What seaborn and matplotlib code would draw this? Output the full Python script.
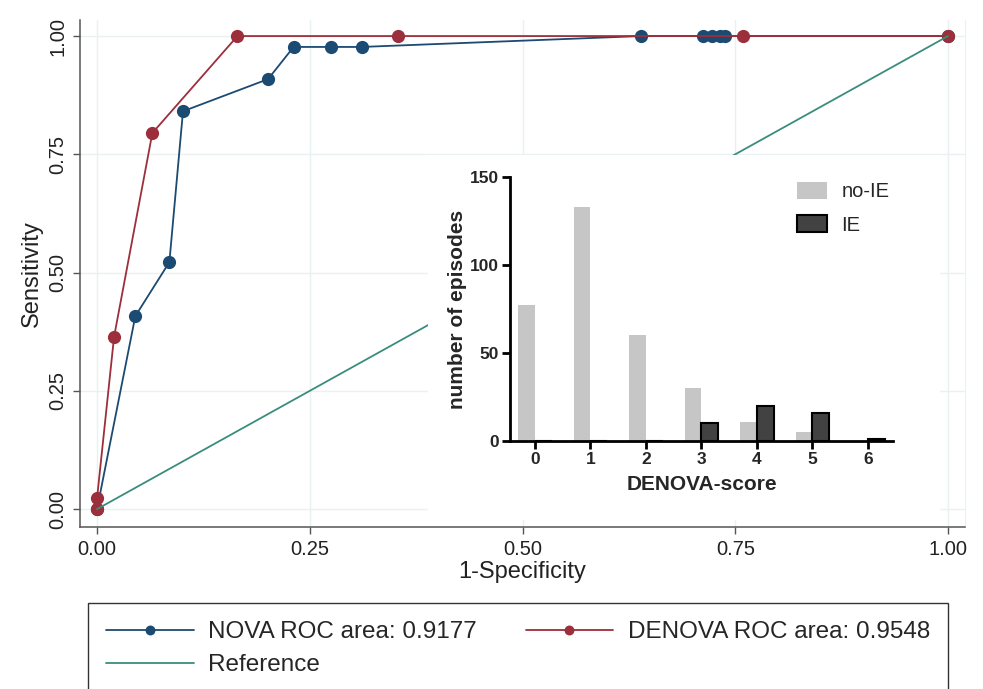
import numpy as np
import pandas as pd
import seaborn as sns
import matplotlib.pyplot as plt
from matplotlib.patches import Rectangle

# ROC points
nova_fpr = [0.0, 0.045, 0.085, 0.101, 0.201, 0.231, 0.275, 0.311, 0.639, 0.712, 0.723, 0.732, 0.738, 1.0]
nova_tpr = [0.0, 0.408, 0.522, 0.841, 0.909, 0.977, 0.977, 0.977, 1.0, 1.0, 1.0, 1.0, 1.0, 1.0]
denova_fpr = [0.0, 0.0, 0.020, 0.065, 0.165, 0.354, 0.759, 1.0]
denova_tpr = [0.0, 0.023, 0.364, 0.795, 1.0, 1.0, 1.0, 1.0]
ref_x = [0.0, 1.0]
ref_y = [0.0, 1.0]

# inset histogram
scores = [0, 1, 2, 3, 4, 5, 6]
no_ie = [77, 133, 60, 30, 11, 5, 0]
ie = [0, 0, 0, 10, 20, 16, 1]

c_nova = '#1b4a72'
c_denova = '#9b2f3b'
c_ref = '#3a8d7d'

sns.set_style('white')
plt.rcParams['font.family'] = ['Liberation Sans', 'DejaVu Sans']

fig = plt.figure(figsize=(9.83, 6.89), dpi=100)
ax = fig.add_axes([0.0814, 0.235, 0.9003, 0.736])

sns.lineplot(x=nova_fpr, y=nova_tpr, ax=ax, sort=False, estimator=None, color=c_nova,
             marker='o', markersize=9.5, markeredgewidth=0, linewidth=1.3, label='NOVA ROC area: 0.9177')
sns.lineplot(x=denova_fpr, y=denova_tpr, ax=ax, sort=False, estimator=None, color=c_denova,
             marker='o', markersize=9.5, markeredgewidth=0, linewidth=1.3, label='DENOVA ROC area: 0.9548')
sns.lineplot(x=ref_x, y=ref_y, ax=ax, sort=False, estimator=None, color=c_ref,
             linewidth=1.3, label='Reference')
if ax.get_legend() is not None:
    ax.get_legend().remove()

ax.set_xlim(-0.02, 1.02)
ax.set_ylim(-0.038, 1.034)
ticks = [0, 0.25, 0.5, 0.75, 1.0]
ax.set_xticks(ticks)
ax.set_yticks(ticks)
ax.set_xticklabels(['%.2f' % t for t in ticks])
ax.set_yticklabels(['%.2f' % t for t in ticks])
ax.grid(True, color='#e9f1f2', linewidth=1.0)
ax.set_axisbelow(True)
for s in ['left', 'bottom']:
    ax.spines[s].set_color('#555555')
    ax.spines[s].set_linewidth(1.1)
ax.spines['top'].set_visible(False)
ax.spines['right'].set_color('#e9f1f2')
ax.tick_params(axis='both', direction='out', length=5, width=1.0, color='#555555',
               labelsize=14.5, labelcolor='#222222', pad=4, bottom=True, left=True)
plt.setp(ax.get_yticklabels(), rotation=90, va='center')
ax.set_xlabel('1-Specificity', fontsize=17, color='#222222', labelpad=2)
ax.set_ylabel('Sensitivity', fontsize=17, color='#222222', labelpad=4)

# legend below the plot
h, l = ax.get_legend_handles_labels()
order = [0, 2, 1]
fig.legend([h[i] for i in order], [l[i] for i in order], loc='upper left',
           bbox_to_anchor=(88 / 983, 1 - 603 / 689), borderaxespad=0,
           ncol=2, fontsize=17.5, frameon=True, fancybox=False, edgecolor='#333333',
           framealpha=1, borderpad=0.75, handlelength=3.6, handletextpad=0.6,
           columnspacing=2.0, labelspacing=0.45, markerscale=0.75, numpoints=1)

# white box for the inset
fig.patches.append(Rectangle((428 / 983, 1 - 520 / 689), (940 - 428) / 983, (520 - 155) / 689,
                             transform=fig.transFigure, facecolor='white', edgecolor='none', zorder=1))

ax_in = fig.add_axes([0.5188, 0.3600, 0.3896, 0.3832])
ax_in.set_zorder(2)
df = pd.DataFrame({'score': scores * 2, 'n': no_ie + ie,
                   'group': ['no-IE'] * len(scores) + ['IE'] * len(scores)})
sns.barplot(data=df, x='score', y='n', hue='group', ax=ax_in, width=0.6, gap=0,
            palette={'no-IE': '#c6c6c6', 'IE': '#424242'}, legend=False)
for p in ax_in.containers[0]:
    p.set_edgecolor('none')
    p.set_linewidth(0)
for p in ax_in.containers[1]:
    p.set_edgecolor('black')
    p.set_linewidth(1.5)

ax_in.set_xlim(-0.45, 6.45)
ax_in.set_ylim(0, 150)
ax_in.set_yticks([0, 50, 100, 150])
for s in ['top', 'right']:
    ax_in.spines[s].set_visible(False)
for s in ['left', 'bottom']:
    ax_in.spines[s].set_color('black')
    ax_in.spines[s].set_linewidth(2.0)
ax_in.tick_params(axis='both', direction='out', length=6, width=2.0, color='black',
                  labelsize=12.5, pad=2, bottom=True, left=True)
for t in ax_in.get_xticklabels() + ax_in.get_yticklabels():
    t.set_fontweight('bold')
ax_in.set_xlabel('DENOVA-score', fontsize=15, fontweight='bold', labelpad=6)
ax_in.set_ylabel('number of episodes', fontsize=15, fontweight='bold', labelpad=2)
ax_in.legend([ax_in.containers[0][0], ax_in.containers[1][0]], ['no-IE', 'IE'],
             loc='upper left', bbox_to_anchor=(797 / 983, 1 - 182 / 689),
             bbox_transform=fig.transFigure, frameon=False, fontsize=14.5,
             borderpad=0, borderaxespad=0, handlelength=1.5, handleheight=0.9,
             handletextpad=0.7, labelspacing=0.7)

fig.savefig('out.png', dpi=100)
